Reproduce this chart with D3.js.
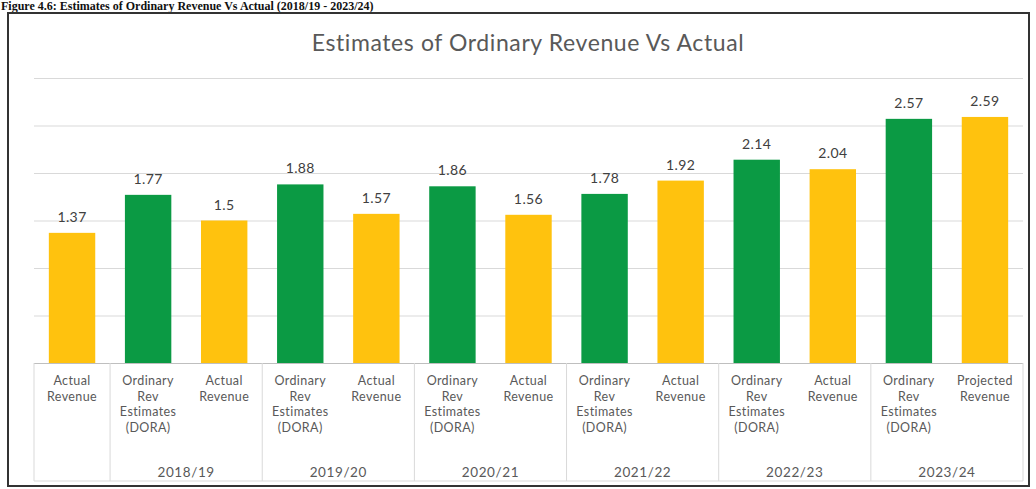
<!DOCTYPE html>
<html>
<head>
<meta charset="utf-8">
<script src="https://cdn.jsdelivr.net/npm/d3@7"></script>
<style>
  body { margin: 0; background: #fff; }
  svg { display: block; font-family: Lato, "Open Sans", sans-serif; }
</style>
</head>
<body>
<div id="chart"></div>
<script>
// chart data
var categories = ["Actual Revenue", "Ordinary Rev Estimates (DORA)", "Actual Revenue",
  "Ordinary Rev Estimates (DORA)", "Actual Revenue", "Ordinary Rev Estimates (DORA)", "Actual Revenue",
  "Ordinary Rev Estimates (DORA)", "Actual Revenue", "Ordinary Rev Estimates (DORA)", "Actual Revenue",
  "Ordinary Rev Estimates (DORA)", "Projected Revenue"];
var years = ["", "2018/19", "2018/19", "2019/20", "2019/20", "2020/21", "2020/21",
  "2021/22", "2021/22", "2022/23", "2022/23", "2023/24", "2023/24"];
var values = [1.37, 1.77, 1.5, 1.88, 1.57, 1.86, 1.56, 1.78, 1.92, 2.14, 2.04, 2.57, 2.59];
var yTicks = [0, 0.5, 1, 1.5, 2, 2.5, 3];

var svgWidth = 1036;
var svgHeight = 489;

var plot = { left: 34, right: 1023, top: 78, bottom: 363 };
var tableBottom = 481;

var svg = d3.select("#chart").append("svg")
  .attr("width", svgWidth)
  .attr("height", svgHeight);

// caption of the page above the chart
svg.append("text")
  .attr("x", 1)
  .attr("y", 10)
  .style("font-family", "'Liberation Serif', serif")
  .style("font-weight", "bold")
  .style("font-size", "12px")
  .attr("fill", "#111")
  .text("Figure 4.6: Estimates of Ordinary Revenue Vs Actual (2018/19 - 2023/24)");

// outer frame
svg.append("rect")
  .attr("x", 8)
  .attr("y", 13)
  .attr("width", 1021)
  .attr("height", 473)
  .attr("fill", "#fff")
  .attr("stroke", "#333")
  .attr("stroke-width", 2);

var idx = d3.range(values.length);

var xScale = d3.scaleBand()
  .domain(idx)
  .range([plot.left, plot.right])
  .paddingInner(0.39)
  .paddingOuter(0.195);

var yScale = d3.scaleLinear()
  .domain([0, 3])
  .range([plot.bottom, plot.top]);

// title
svg.append("text")
  .attr("x", svgWidth / 2 + 10)
  .attr("y", 51)
  .attr("text-anchor", "middle")
  .attr("fill", "#595959")
  .style("font-size", "23px")
  .style("letter-spacing", "0.6px")
  .text("Estimates of Ordinary Revenue Vs Actual");

// gridlines
var yAxis = d3.axisLeft(yScale)
  .tickValues(yTicks)
  .tickSize(-(plot.right - plot.left))
  .tickFormat("");

svg.append("g")
  .attr("transform", `translate(${plot.left},0)`)
  .call(yAxis)
  .call(g => g.select(".domain").remove())
  .call(g => g.selectAll("line").attr("stroke", "#d9d9d9"));

// bars
function barColor(label) {
  return label.indexOf("Estimates") >= 0 ? "#0b9a44" : "#ffc20e";
}

svg.selectAll(".bar")
  .data(idx)
  .enter()
  .append("rect")
  .attr("class", "bar")
  .attr("x", i => xScale(i))
  .attr("y", i => yScale(values[i]))
  .attr("width", xScale.bandwidth())
  .attr("height", i => yScale(0) - yScale(values[i]))
  .attr("fill", i => barColor(categories[i]));

// value labels
svg.selectAll(".val")
  .data(idx)
  .enter()
  .append("text")
  .attr("class", "val")
  .attr("x", i => xScale(i) + xScale.bandwidth() / 2)
  .attr("y", i => yScale(values[i]) - 11)
  .attr("text-anchor", "middle")
  .attr("fill", "#404040")
  .style("font-size", "14px")
  .style("letter-spacing", "0.4px")
  .text(i => values[i]);

// category table
var step = xScale.step();
var table = svg.append("g").attr("stroke", "#d9d9d9").attr("stroke-width", 1);

table.append("line")
  .attr("x1", plot.left).attr("x2", plot.right)
  .attr("y1", plot.bottom + 0.5).attr("y2", plot.bottom + 0.5)
  .attr("stroke", "#bfbfbf");

table.append("line")
  .attr("x1", plot.left).attr("x2", plot.right)
  .attr("y1", tableBottom).attr("y2", tableBottom);

// group boundaries where the year changes
var bounds = [0];
idx.forEach(function(i) {
  if (i > 0 && years[i] !== years[i - 1]) bounds.push(i);
});
bounds.push(values.length);

function edgeX(b) {
  return plot.left + step * b;
}

table.selectAll(".sep")
  .data(bounds)
  .enter()
  .append("line")
  .attr("x1", b => edgeX(b))
  .attr("x2", b => edgeX(b))
  .attr("y1", plot.bottom)
  .attr("y2", tableBottom);

// category labels, one word per line
var catLabels = svg.selectAll(".cat")
  .data(idx)
  .enter()
  .append("text")
  .attr("class", "cat")
  .attr("text-anchor", "middle")
  .attr("fill", "#595959")
  .style("font-size", "12.5px")
  .style("letter-spacing", "0.4px");

catLabels.each(function(i) {
  var t = d3.select(this);
  var cx = xScale(i) + xScale.bandwidth() / 2;
  categories[i].split(" ").forEach(function(w, k) {
    t.append("tspan")
      .attr("x", cx)
      .attr("y", 385 + k * 15.7)
      .text(w);
  });
});

// year labels centred under each group
var groups = [];
for (var g = 0; g < bounds.length - 1; g++) {
  groups.push({ year: years[bounds[g]], first: bounds[g], last: bounds[g + 1] });
}

svg.selectAll(".year")
  .data(groups)
  .enter()
  .append("text")
  .attr("class", "year")
  .attr("x", d => (edgeX(d.first) + edgeX(d.last)) / 2)
  .attr("y", 477)
  .attr("text-anchor", "middle")
  .attr("fill", "#595959")
  .style("font-size", "13.5px")
  .style("letter-spacing", "0.6px")
  .text(d => d.year);
</script>
</body>
</html>
